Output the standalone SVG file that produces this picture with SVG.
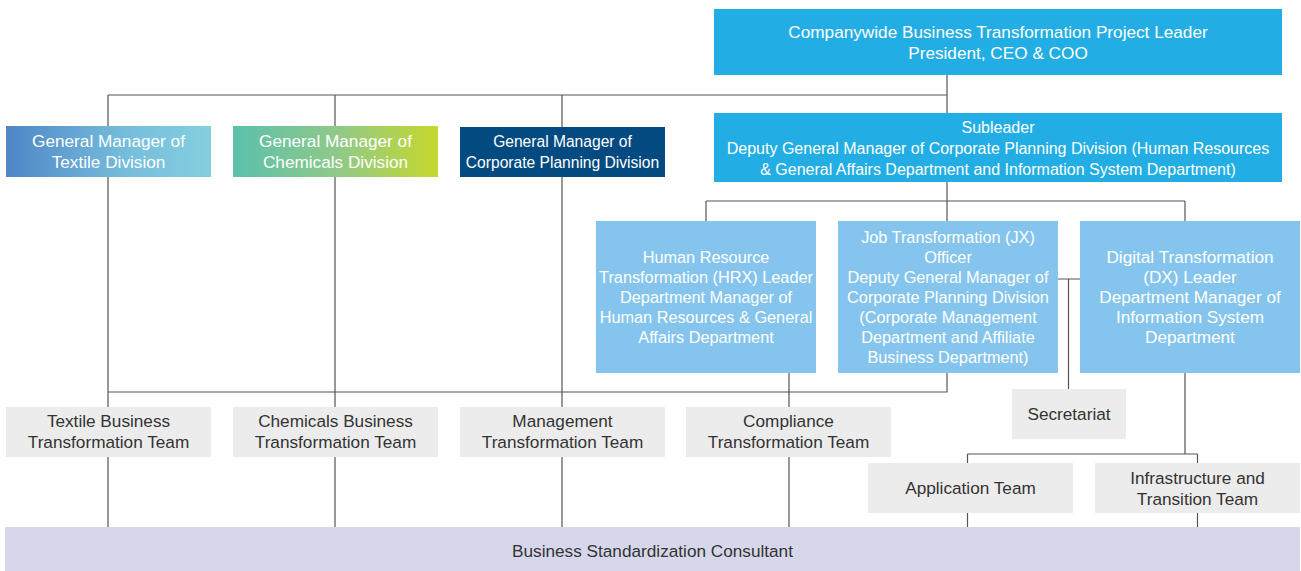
<svg xmlns="http://www.w3.org/2000/svg" width="1301" height="571" viewBox="0 0 1301 571">
<style>
text{font-family:"Liberation Sans",Arial,sans-serif;font-size:17.2px;text-anchor:middle}
.w{fill:#ffffff}
.d{fill:#333333}
.s16{font-size:16px}
.s163{font-size:16.3px}
.s155{font-size:15.6px}
.lead{fill:#22aee4}
.sub{fill:#85c5ed}
.team{fill:#ececec}
.cons{fill:#d6d7eb}
.ln{stroke:#555555;stroke-width:1.2;fill:none}
</style>
<defs>
<linearGradient id="gTex" x1="0" y1="0" x2="1" y2="0">
<stop offset="0" stop-color="#4f86c7"/><stop offset="0.6" stop-color="#76bedc"/><stop offset="1" stop-color="#84cfdf"/>
</linearGradient>
<linearGradient id="gChem" x1="0" y1="0" x2="1" y2="0">
<stop offset="0" stop-color="#5cc0ab"/><stop offset="0.5" stop-color="#8ec98a"/><stop offset="1" stop-color="#c6d82d"/>
</linearGradient>
</defs>
<g id="connectors">
<path class="ln" d="M947 74V113M108 95H947M108 95V126M335 95V126M562 95V127"/>
<path class="ln" d="M108 177V407M335 177V407M562 177V407"/>
<path class="ln" d="M947 181V221M706 201H1185M706 201V221M1185 201V221"/>
<path class="ln" d="M947 372V392H108M789 372V407"/>
<path class="ln" d="M1058 279H1080M1068.5 279V389"/>
<path class="ln" d="M1185 372V454M967.5 454H1197.5M967.5 454V463M1197.5 454V463"/>
<path class="ln" d="M108 457V527M335 457V527M562 457V527M789 457V527M967.5 513V527M1197.5 513V527"/>
</g>
<g id="leader">
<rect class="lead" x="714" y="9" width="568" height="66"/>
<text class="w" x="998" y="38">Companywide Business Transformation Project Leader</text>
<text class="w" x="998" y="59">President, CEO &amp; COO</text>
</g>
<g id="subleader">
<rect class="lead" x="714" y="113" width="568" height="69"/>
<text class="w s16" x="998" y="133">Subleader</text>
<text class="w s16" x="998" y="154">Deputy General Manager of Corporate Planning Division (Human Resources</text>
<text class="w s16" x="998" y="175">&amp; General Affairs Department and Information System Department)</text>
</g>
<g id="gm-textile">
<rect x="6" y="126" width="205" height="51" fill="url(#gTex)"/>
<text class="w" x="108.5" y="147">General Manager of</text>
<text class="w" x="108.5" y="168">Textile Division</text>
</g>
<g id="gm-chemicals">
<rect x="233" y="126" width="205" height="51" fill="url(#gChem)"/>
<text class="w" x="335.5" y="147">General Manager of</text>
<text class="w" x="335.5" y="168">Chemicals Division</text>
</g>
<g id="gm-corporate">
<rect x="460" y="127" width="205" height="50" fill="#034a80"/>
<text class="w s155" x="562.5" y="147">General Manager of</text>
<text class="w s155" x="562.5" y="168">Corporate Planning Division</text>
</g>
<g id="hrx">
<rect class="sub" x="596" y="221" width="220" height="152"/>
<text class="w s163" x="706" y="263">Human Resource</text>
<text class="w s163" x="706" y="283">Transformation (HRX) Leader</text>
<text class="w s163" x="706" y="303">Department Manager of</text>
<text class="w s163" x="706" y="323">Human Resources &amp; General</text>
<text class="w s163" x="706" y="343">Affairs Department</text>
</g>
<g id="jx">
<rect class="sub" x="838" y="221" width="220" height="152"/>
<text class="w s163" x="948" y="243">Job Transformation (JX)</text>
<text class="w s163" x="948" y="263">Officer</text>
<text class="w s163" x="948" y="283">Deputy General Manager of</text>
<text class="w s163" x="948" y="303">Corporate Planning Division</text>
<text class="w s163" x="948" y="323">(Corporate Management</text>
<text class="w s163" x="948" y="343">Department and Affiliate</text>
<text class="w s163" x="948" y="363">Business Department)</text>
</g>
<g id="dx">
<rect class="sub" x="1080" y="221" width="220" height="152"/>
<text class="w" x="1190" y="263">Digital Transformation</text>
<text class="w" x="1190" y="283">(DX) Leader</text>
<text class="w" x="1190" y="303">Department Manager of</text>
<text class="w" x="1190" y="323">Information System</text>
<text class="w" x="1190" y="343">Department</text>
</g>
<g id="team-textile">
<rect class="team" x="6" y="407" width="205" height="50"/>
<text class="d" x="108.5" y="427">Textile Business</text>
<text class="d" x="108.5" y="448">Transformation Team</text>
</g>
<g id="team-chemicals">
<rect class="team" x="233" y="407" width="205" height="50"/>
<text class="d" x="335.5" y="427">Chemicals Business</text>
<text class="d" x="335.5" y="448">Transformation Team</text>
</g>
<g id="team-management">
<rect class="team" x="460" y="407" width="205" height="50"/>
<text class="d" x="562.5" y="427">Management</text>
<text class="d" x="562.5" y="448">Transformation Team</text>
</g>
<g id="team-compliance">
<rect class="team" x="686" y="407" width="205" height="50"/>
<text class="d" x="788.5" y="427">Compliance</text>
<text class="d" x="788.5" y="448">Transformation Team</text>
</g>
<g id="secretariat">
<rect class="team" x="1012" y="389" width="114" height="50"/>
<text class="d" x="1069" y="420">Secretariat</text>
</g>
<g id="team-application">
<rect class="team" x="868" y="463" width="205" height="50"/>
<text class="d" x="970.5" y="494">Application Team</text>
</g>
<g id="team-infrastructure">
<rect class="team" x="1095" y="463" width="205" height="50"/>
<text class="d" x="1197.5" y="484">Infrastructure and</text>
<text class="d" x="1197.5" y="505">Transition Team</text>
</g>
<g id="consultant">
<rect class="cons" x="5" y="527" width="1295" height="44"/>
<text class="d" x="652.5" y="557">Business Standardization Consultant</text>
</g>
</svg>
